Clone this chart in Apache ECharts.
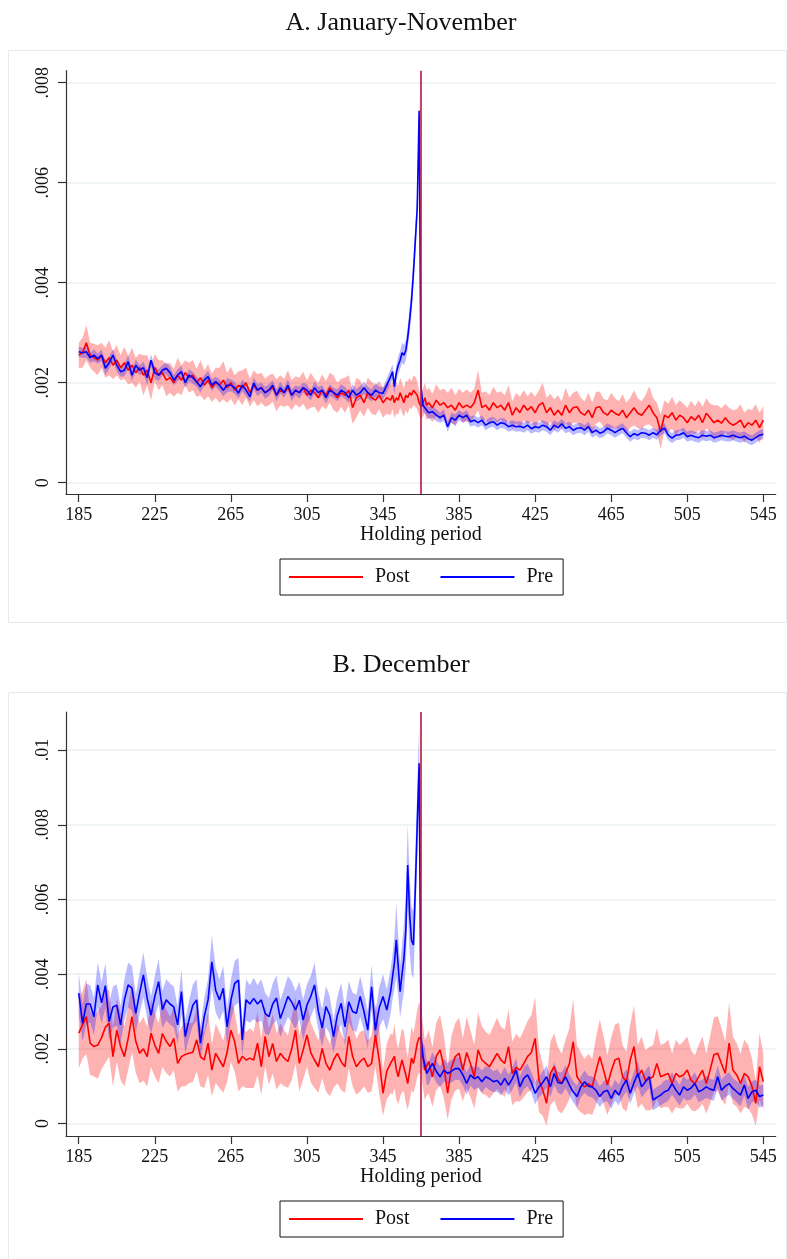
<!DOCTYPE html>
<html><head><meta charset="utf-8">
<script src="https://cdn.jsdelivr.net/npm/echarts@6/dist/echarts.min.js"></script>
<style>html,body{margin:0;padding:0;background:#fff}#c{width:787px;height:1259px}</style>
</head><body><div id="c"></div>
<script>
// Holding-period days: every 2 days, daily around the year mark
const days = [];
for (let d = 185; d < 350; d += 2) days.push(d);
for (let d = 350; d <= 368; d++) days.push(d);
for (let d = 369; d <= 545; d += 2) days.push(d);

const xTicks = [185, 225, 265, 305, 345, 385, 425, 465, 505, 545];
const yTicksA = [0, 2, 4, 6, 8];     // x 0.001
const yTicksB = [0, 2, 4, 6, 8, 10]; // x 0.001
const cutoffDay = 365;
const titles = ['A. January-November', 'B. December'];

// ---------- Panel A (values in units of 0.001) ----------
const postA = [
2.55,2.6,2.8,2.55,2.5,2.45,2.55,2.4,2.5,2.35,
2.45,2.3,2.4,2.25,2.35,2.2,2.3,2.15,2.25,2.0,
2.3,2.15,2.2,2.05,2.1,2.0,2.15,2.05,2.2,2.1,
2.15,2.0,2.1,1.95,2.05,1.9,2.0,1.95,2.05,1.9,
2.0,1.85,1.95,1.9,2.0,1.8,1.95,1.85,1.9,1.8,
1.85,1.9,1.75,1.85,1.8,1.9,1.75,1.85,1.8,1.9,
1.75,1.85,1.8,1.7,1.85,1.75,1.9,1.8,1.7,1.8,
1.75,1.85,1.5,1.7,1.75,1.6,1.8,1.7,1.65,1.75,
1.6,1.7,1.65,
1.75,1.6,1.7,1.65,1.8,1.7,1.6,1.75,1.7,1.8,1.75,1.85,1.82,1.75,1.6,1.52,1.6,1.7,1.55,
1.6,1.5,1.65,1.55,1.6,1.5,1.55,1.45,1.6,1.5,
1.55,1.5,1.6,1.85,1.5,1.55,1.45,1.6,1.5,1.55,
1.45,1.6,1.35,1.5,1.4,1.55,1.45,1.52,1.4,1.55,
1.6,1.4,1.5,1.35,1.45,1.35,1.55,1.4,1.5,1.52,
1.4,1.35,1.45,1.3,1.5,1.52,1.4,1.35,1.45,1.39,
1.35,1.45,1.3,1.4,1.5,1.39,1.35,1.45,1.55,1.4,
1.3,1.02,1.35,1.3,1.4,1.25,1.35,1.3,1.2,1.32,
1.25,1.35,1.2,1.39,1.3,1.2,1.25,1.19,1.3,1.2,
1.15,1.19,1.25,1.1,1.2,1.15,1.25,1.1,1.25];
const postCIA = [
.25,.3,.35,.25,.28,.3,.25,.3,.35,.28,
.3,.25,.32,.28,.35,.3,.28,.4,.3,.35,
.28,.3,.25,.32,.3,.28,.35,.3,.25,.3,
.3,.28,.35,.3,.32,.28,.3,.35,.38,.3,
.32,.3,.28,.35,.3,.28,.3,.32,.3,.28,
.3,.28,.32,.3,.28,.35,.3,.28,.3,.32,
.3,.35,.28,.3,.32,.28,.3,.35,.3,.28,
.35,.3,.32,.4,.3,.28,.3,.32,.3,.28,
.3,.32,.3,
.28,.3,.32,.28,.3,.3,.28,.3,.32,.3,.28,.3,.3,.28,.25,.25,.28,.3,.3,
.3,.28,.32,.3,.28,.3,.35,.3,.28,.3,
.32,.3,.28,.4,.3,.28,.3,.32,.3,.28,
.3,.35,.28,.3,.32,.3,.28,.3,.32,.3,
.4,.3,.28,.32,.3,.28,.35,.3,.3,.32,
.3,.28,.35,.3,.32,.3,.28,.3,.35,.3,
.28,.32,.3,.3,.35,.3,.28,.3,.38,.3,
.3,.35,.3,.28,.32,.3,.3,.28,.3,.32,
.28,.3,.32,.3,.28,.35,.3,.3,.28,.3,
.3,.28,.32,.3,.28,.3,.32,.3,.28];
const preA = [
2.62,2.6,2.62,2.5,2.55,2.48,2.55,2.29,2.4,2.55,
2.35,2.22,2.25,2.42,2.15,2.35,2.25,2.3,2.1,2.45,
2.2,2.15,2.25,2.29,2.2,2.05,2.15,2.22,2.0,2.15,
2.1,2.02,1.92,2.05,2.12,1.95,2.02,1.95,1.85,1.95,
1.95,1.9,1.79,1.95,1.85,1.72,1.99,1.85,1.9,1.8,
1.85,1.95,1.75,1.9,1.8,1.95,1.75,1.85,1.8,1.9,
1.85,1.75,1.9,1.8,1.85,1.7,1.85,1.8,1.75,1.85,
1.8,1.7,1.85,1.75,1.8,1.9,1.8,1.75,1.85,1.8,
1.79,1.95,2.12,
2.22,1.92,2.2,2.35,2.45,2.6,2.55,2.65,2.9,3.25,3.65,4.2,4.85,5.5,7.44,1.9,1.55,1.5,1.45,
1.4,1.42,1.35,1.3,1.35,1.12,1.3,1.25,1.35,1.3,
1.35,1.22,1.25,1.2,1.25,1.15,1.2,1.22,1.15,1.2,
1.18,1.12,1.15,1.12,1.13,1.1,1.15,1.08,1.12,1.1,
1.15,1.12,1.05,1.15,1.1,1.18,1.09,1.12,1.05,1.09,
1.1,1.05,1.12,1.0,1.05,0.99,1.02,1.09,1.05,1.0,
1.05,1.09,1.0,0.92,0.98,0.95,1.0,0.99,0.95,1.0,
0.96,1.05,1.09,0.95,0.89,0.95,0.96,1.0,0.92,0.95,
0.92,0.9,0.95,0.93,0.95,0.9,0.92,0.95,0.93,0.92,
0.95,0.92,0.9,0.93,0.88,0.85,0.9,0.95,0.97];
const preCIA = [
.1,.1,.12,.1,.12,.1,.12,.14,.12,.12,
.12,.1,.12,.14,.12,.12,.1,.12,.15,.12,
.12,.12,.1,.12,.12,.1,.12,.12,.1,.12,
.12,.1,.12,.1,.12,.12,.1,.12,.12,.14,
.12,.12,.1,.12,.12,.1,.12,.12,.1,.12,
.12,.1,.12,.12,.1,.12,.12,.1,.12,.1,
.12,.1,.12,.12,.1,.12,.12,.1,.12,.12,
.12,.1,.12,.12,.14,.12,.12,.12,.14,.12,
.12,.14,.15,
.15,.15,.15,.18,.18,.2,.2,.2,.22,.25,.28,.3,.3,.32,.35,.2,.12,.12,.12,
.12,.12,.12,.1,.12,.1,.1,.12,.1,.1,
.1,.1,.1,.1,.1,.1,.1,.1,.1,.1,
.1,.1,.1,.1,.1,.1,.1,.1,.1,.1,
.1,.1,.1,.1,.1,.1,.1,.1,.1,.1,
.1,.1,.1,.1,.1,.1,.1,.1,.1,.1,
.1,.1,.1,.1,.1,.1,.1,.1,.1,.1,
.1,.1,.1,.1,.1,.1,.1,.1,.1,.1,
.1,.1,.1,.1,.1,.1,.1,.1,.1,.1,
.1,.1,.1,.1,.1,.1,.1,.1,.1];

// ---------- Panel B ----------
const postB = [
2.42,2.64,2.86,2.15,2.06,2.1,2.3,2.58,2.68,1.79,
2.5,2.06,1.79,2.28,2.86,2.2,1.88,2.0,1.79,2.42,
2.1,1.88,2.41,2.2,2.06,2.28,1.61,1.79,1.85,1.88,
1.91,2.24,1.79,1.7,2.15,1.43,1.88,1.7,1.52,1.9,
2.5,2.19,1.61,1.8,1.7,1.75,1.7,2.15,1.52,2.33,
1.79,2.14,1.66,1.88,1.75,1.66,2.0,2.5,1.61,1.97,
2.37,1.9,1.7,1.52,2.01,1.61,1.43,1.7,1.88,1.65,
1.52,2.33,1.8,1.52,1.66,1.75,1.52,1.61,2.37,1.7,
0.81,1.4,1.61,
1.57,1.8,1.45,1.25,1.5,1.7,1.66,1.3,1.07,1.4,1.75,1.61,1.85,2.15,2.3,2.24,1.8,1.43,1.55,
1.66,1.25,1.8,1.97,1.52,0.81,1.5,1.79,1.88,1.43,
1.9,1.6,1.25,1.97,1.7,1.61,1.52,1.7,1.88,1.7,
1.61,2.06,1.34,1.5,1.43,1.6,1.79,1.9,2.28,1.16,
0.9,0.54,1.34,1.52,1.2,1.07,1.34,1.6,2.19,1.25,
1.1,0.98,1.07,0.98,1.4,1.79,1.43,1.03,1.4,1.7,
1.75,1.25,1.12,1.7,2.06,1.25,1.43,1.16,1.2,1.25,
1.61,1.25,1.3,1.34,1.07,1.34,1.25,1.3,1.43,1.16,
1.07,1.25,1.43,1.07,1.43,1.84,1.88,1.6,1.34,2.15,
1.43,1.3,1.07,1.34,1.25,1.0,0.54,1.52,1.12];
const postCIB = [
.95,.9,1.0,.85,.8,.9,.85,.95,.9,.8,
.85,.9,.8,.85,.95,.85,.8,.85,.8,.9,
.85,.8,.9,.85,.8,.85,.75,.8,.85,.8,
.8,.85,.8,.75,.85,.7,.8,.75,.7,.8,
.85,.8,.75,.8,.75,.8,.75,.85,.75,.8,
.75,.8,.75,.8,.75,.7,.85,.9,.75,.8,
.85,.8,.75,.7,.8,.75,.7,.75,.8,.75,
.7,.85,.8,.75,.8,.75,.7,.75,.85,.9,
.6,.75,.8,
.8,.85,.8,.75,.8,.85,.8,.75,.7,.8,.85,.8,.85,.9,.95,.9,.85,.8,.8,
.85,.8,.9,.95,.85,.7,.85,.9,.95,.85,
.95,.9,.85,1.0,.9,.85,.85,.9,.95,.9,
.9,1.0,.85,.9,.85,.9,.95,1.0,1.1,.85,
.7,.6,.85,.9,.85,.8,.9,.95,1.15,.85,
.8,.75,.8,.75,.9,1.0,.9,.8,.9,.95,
.95,.85,.8,.95,1.1,.85,.9,.8,.85,.85,
.95,.85,.85,.9,.8,.9,.85,.9,.9,.8,
.75,.85,.9,.8,.9,1.0,1.0,.95,.85,1.1,
.9,.85,.8,.9,.85,.75,.6,.9,.75];
const preB = [
3.49,2.69,3.2,3.2,2.86,3.71,3.23,3.69,2.73,3.12,
3.17,2.64,3.31,3.71,3.62,2.95,3.49,3.98,3.35,2.9,
3.4,3.8,3.05,3.31,3.2,3.12,2.64,3.53,2.33,2.78,
3.17,3.31,2.15,2.86,3.31,4.33,3.57,3.31,3.62,2.59,
3.3,3.75,3.84,2.24,3.31,3.2,3.35,3.2,3.31,2.95,
2.86,3.2,3.36,2.81,3.1,3.4,3.25,3.04,3.3,2.77,
3.17,3.4,3.71,3.0,2.56,3.13,2.9,2.33,2.9,3.22,
2.59,3.26,3.0,2.95,3.4,3.0,2.5,3.66,2.5,3.1,
3.4,3.04,3.53,
3.93,4.3,4.92,4.2,3.53,4.0,4.42,5.18,6.92,5.6,4.9,4.78,6.3,8.0,9.65,2.3,1.79,1.75,1.34,
1.34,1.61,1.4,1.25,1.43,1.34,1.4,1.47,1.47,1.3,
1.07,1.3,1.2,1.25,1.12,1.25,1.2,1.12,1.15,1.03,
1.21,1.03,1.2,1.43,0.98,1.21,1.3,1.1,0.81,0.98,
1.1,1.25,0.98,1.34,1.1,1.07,1.25,1.03,0.85,0.72,
0.98,1.12,1.0,0.98,0.89,0.72,0.85,0.89,0.67,0.89,
0.76,1.0,1.16,0.81,1.1,1.34,0.98,1.12,1.25,0.63,
0.7,0.76,0.85,0.89,1.07,0.9,0.76,0.98,0.89,0.95,
1.07,0.85,0.9,0.98,0.92,0.89,1.25,0.89,1.0,1.07,
0.94,0.85,0.76,1.03,0.67,0.85,0.89,0.72,0.76];
const preCIB = [
.55,.5,.55,.5,.5,.6,.55,.6,.5,.55,
.55,.5,.55,.6,.6,.5,.55,.6,.55,.5,
.55,.6,.5,.55,.55,.55,.5,.6,.45,.5,
.55,.55,.45,.5,.55,.7,.6,.55,.6,.5,
.55,.6,.6,.45,.55,.5,.55,.5,.55,.55,
.5,.55,.6,.5,.5,.55,.55,.5,.5,.55,
.55,.55,.6,.5,.5,.55,.5,.45,.5,.55,
.5,.55,.5,.5,.55,.5,.5,.6,.5,.55,
.6,.55,.6,
.6,.7,1.0,.8,.7,.8,.9,1.0,1.1,1.0,.9,.9,1.0,1.0,1.05,.5,.35,.3,.3,
.3,.3,.3,.28,.3,.28,.3,.3,.3,.28,
.3,.28,.3,.28,.3,.28,.3,.28,.3,.28,
.3,.28,.3,.32,.28,.3,.3,.28,.3,.28,
.3,.3,.28,.3,.28,.3,.3,.28,.28,.3,
.28,.3,.28,.28,.3,.28,.28,.3,.28,.28,
.28,.3,.3,.28,.3,.32,.28,.3,.3,.28,
.28,.28,.3,.28,.3,.28,.28,.3,.28,.3,
.3,.28,.28,.3,.28,.28,.3,.28,.3,.3,
.28,.28,.3,.28,.3,.28,.28,.3,.28];

const FONT = 'Liberation Serif';
const RED = '#ff0000', BLUE = '#0000ff', CUT = '#b8173f';
const GRIDC = '#eaf0f3', AXC = '#333333';

function fmtY(v) {
  if (v === 0) return '0';
  return String(+(v / 1000).toPrecision(3)).replace(/^0/, '');
}

// Confidence band drawn as one polygon through the axis scales (api.coord)
function bandSeries(g, mid, ci, fill) {
  const data = days.map((d, i) => [d, mid[i] - ci[i], mid[i] + ci[i]]);
  return {
    type: 'custom', xAxisIndex: g, yAxisIndex: g, silent: true,
    encode: { x: 0, y: [1, 2] }, data: data, clip: true,
    renderItem: function (params, api) {
      if (params.dataIndex !== 0) return null;
      const top = [], bot = [];
      for (let i = 0; i < data.length; i++) {
        top.push(api.coord([data[i][0], data[i][2]]));
        bot.push(api.coord([data[i][0], data[i][1]]));
      }
      const cs = params.coordSys;
      return {
        type: 'polygon',
        shape: { points: top.concat(bot.reverse()) },
        style: { fill: fill, stroke: null },
        clipPath: { type: 'rect', shape: { x: cs.x, y: cs.y, width: cs.width, height: cs.height } }
      };
    }
  };
}

function panelSeries(g, post, postCI, pre, preCI) {
  const pts = (arr) => days.map((d, i) => [d, arr[i]]);
  return [
    bandSeries(g, post, postCI, 'rgba(255,0,0,0.3)'),
    bandSeries(g, pre, preCI, 'rgba(0,0,255,0.27)'),
    { name: 'Post', type: 'line', xAxisIndex: g, yAxisIndex: g, data: pts(post),
      symbol: 'none', lineStyle: { color: RED, width: 1.6 }, itemStyle: { color: RED },
      markLine: { silent: true, symbol: 'none', label: { show: false },
        lineStyle: { color: CUT, width: 1.6, type: 'solid' }, data: [{ xAxis: cutoffDay }] } },
    { name: 'Pre', type: 'line', xAxisIndex: g, yAxisIndex: g, data: pts(pre),
      symbol: 'none', lineStyle: { color: BLUE, width: 1.6 }, itemStyle: { color: BLUE } }
  ];
}

function xAxis(g) {
  return {
    type: 'value', gridIndex: g, min: 178.3, max: 551.5,
    name: 'Holding period', nameLocation: 'middle', nameGap: 30,
    nameTextStyle: { fontFamily: FONT, fontSize: 20, color: '#111' },
    axisLine: { show: true, onZero: false, lineStyle: { color: AXC, width: 1.2 } },
    axisTick: { show: true, length: 8, customValues: xTicks, lineStyle: { color: AXC, width: 1.2 } },
    axisLabel: { customValues: xTicks, margin: 12, fontFamily: FONT, fontSize: 18, color: '#111' },
    splitLine: { show: false }
  };
}
function yAxis(g, mn, mx, ticks) {
  return {
    type: 'value', gridIndex: g, min: mn, max: mx,
    axisLine: { show: true, onZero: false, lineStyle: { color: AXC, width: 1.2 } },
    axisTick: { show: true, length: 8, customValues: ticks, lineStyle: { color: AXC, width: 1.2 } },
    axisLabel: { customValues: ticks, rotate: 90, margin: 14, fontFamily: FONT, fontSize: 18,
      color: '#111', formatter: fmtY },
    splitLine: { show: true, lineStyle: { color: GRIDC, width: 1.5 } }
  };
}
function legend(top) {
  return {
    data: ['Post', 'Pre'], left: 280, top: top, orient: 'horizontal',
    icon: 'rect', itemWidth: 74, itemHeight: 2, itemGap: 31,
    borderColor: '#111', borderWidth: 1, borderRadius: 0,
    padding: [8, 10, 8, 9], selectedMode: false,
    textStyle: { fontFamily: FONT, fontSize: 20, color: '#111', padding: [0, 0, 0, 7] }
  };
}

const chart = echarts.init(document.getElementById('c'), null, { renderer: 'canvas' });
chart.setOption({
  animation: false,
  backgroundColor: '#ffffff',
  graphic: [
    { type: 'rect', shape: { x: 8.5, y: 50.5, width: 778, height: 572 },
      style: { fill: null, stroke: '#e3ebee', lineWidth: 1 }, silent: true, z: -10 },
    { type: 'rect', shape: { x: 8.5, y: 692.5, width: 778, height: 600 },
      style: { fill: null, stroke: '#e3ebee', lineWidth: 1 }, silent: true, z: -10 },
    { type: 'text', x: 401, y: 23, style: { text: titles[0], fontFamily: FONT, fontSize: 26,
      fill: '#111', align: 'center', verticalAlign: 'middle' } },
    { type: 'text', x: 401, y: 665, style: { text: titles[1], fontFamily: FONT, fontSize: 26,
      fill: '#111', align: 'center', verticalAlign: 'middle' } }
  ],
  grid: [
    { left: 66, right: 11.3, top: 70.7, height: 494 - 70.7 },
    { left: 66, right: 11.3, top: 712, height: 1136 - 712 }
  ],
  xAxis: [xAxis(0), xAxis(1)],
  yAxis: [yAxis(0, -0.226, 8.24, yTicksA), yAxis(1, -0.335, 11.02, yTicksB)],
  legend: [legend(559), legend(1201)],
  series: [
    ...panelSeries(0, postA, postCIA, preA, preCIA),
    ...panelSeries(1, postB, postCIB, preB, preCIB)
  ]
});
</script></body></html>
